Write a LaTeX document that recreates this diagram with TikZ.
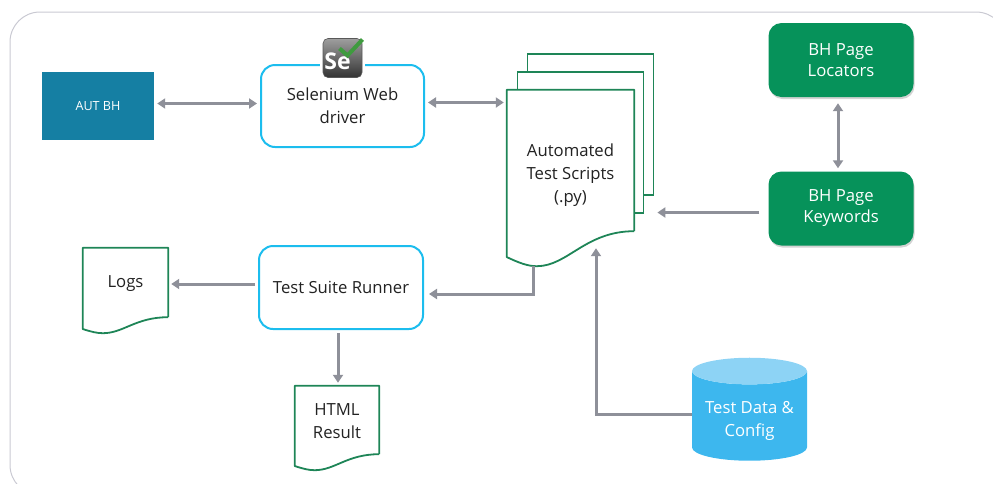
\documentclass[tikz,border=0pt]{standalone}
\usepackage{fontspec}
\setmainfont{Open Sans}
\usetikzlibrary{arrows.meta,calc,positioning,shadows,shapes.geometric}
\definecolor{flowgray}{HTML}{8E9099}
\definecolor{framegray}{HTML}{C9C9D2}
\definecolor{autblue}{HTML}{157FA3}
\definecolor{runnerblue}{HTML}{1CBDEE}
\definecolor{pagegreen}{HTML}{1E8557}
\definecolor{bhgreen}{HTML}{06925A}
\definecolor{databody}{HTML}{3DB7EE}
\definecolor{datatop}{HTML}{8DD3F5}
\definecolor{checkgreen}{HTML}{3F9B3F}
\definecolor{inkgray}{HTML}{222222}
\tikzset{
	label16/.style={font=\fontsize{16.7}{23}\selectfont,align=center,text=inkgray},
	runnerbox/.style={label16,draw=runnerblue,line width=2pt,rounded corners=14pt,fill=white,inner sep=0pt},
	bhbox/.style={label16,font=\fontsize{16.7}{21}\selectfont,text=white,fill=bhgreen,rounded corners=13pt,inner sep=0pt,minimum width=145pt,minimum height=74pt,drop shadow={opacity=.35,shadow xshift=1pt,shadow yshift=-2pt}},
	docbox/.style={label16,inner sep=0pt},
	pagebox/.style={draw=pagegreen,line width=1.8pt,fill=white,inner sep=0pt,minimum width=126pt,minimum height=141pt},
	docline/.style={draw=pagegreen,line width=1.8pt,line join=round},
	flow/.style={draw=flowgray,line width=3pt,shorten >=3pt,shorten <=3pt},
}
\newcommand{\docpage}[4][fill=none]{
\path[docline,#1] (#2.south east) -- (#2.north east) -- (#2.north west) -- ($(#2.south west)+(0,#4*0.74)$)
	.. controls +(0.10*#3,0.17*#4) and +(-0.07*#3,0) .. ($(#2.south west)+(0.236*#3,#4)$)
	.. controls +(0.244*#3,0) and +(-0.386*#3,0) .. (#2.south east);
}
\begin{document}
\begin{tikzpicture}[x=1pt,y=-1pt,on grid,>={Triangle[width=10pt,length=8pt]}]
\useasboundingbox (0,0) rectangle (993,483);
\clip (0,0) rectangle (993,483);
\draw[framegray,line width=1pt,rounded corners=30pt] (10,12) rectangle (1006,495);
\node[fill=autblue,text=white,font=\fontsize{12.6}{14}\selectfont,minimum width=112pt,minimum height=68pt,inner sep=0pt]	(aut)	at (98,106)	{AUT BH};
\node[runnerbox,minimum width=163pt,minimum height=82pt]	(selenium)		[right=244.5pt of aut]						{Selenium Web\\driver};
\node[fill=white,minimum width=45pt,minimum height=41pt,inner sep=0pt]	(seback)	[above=48.5pt of selenium]		{};
\node[top color=black!38,bottom color=black!80,draw=black!65,line width=.6pt,rounded corners=5pt,minimum width=39pt,minimum height=39pt,inner sep=0pt]	(seicon)	[above=48pt of selenium]	{};
\node[text=white,inner sep=0pt,font=\bfseries\fontsize{23}{23}\selectfont]	(setext)	[below left=3.5pt and 5pt of seicon]	{Se};
\coordinate	(checkstart)	at ($(seicon.center)+(-3,-9.5)$);
\coordinate	(checkmid)		at ($(seicon.center)+(5,-2.5)$);
\coordinate	(checkend)		at ($(seicon.center)+(20,-18.5)$);
\draw[checkgreen,line width=4pt] (checkstart) -- (checkmid) -- (checkend);
\node[pagebox]	(page3)		[above right=-18.5pt and 248pt of selenium]			{};
\node[pagebox]	(page2)		[below left=18pt and 10pt of page3]					{};
\node[docbox,minimum width=127pt,minimum height=141pt]	(scripts)	[below left=18pt and 10pt of page2]		{};
\docpage[fill=white]{scripts}{127}{35}
\node[docbox]	(scriptstext)	[below=15pt of scripts]							{Automated\\Test Scripts\\(.py)};
\node[bhbox]	(locators)	[above right=100.5pt and 270.5pt of scripts]		{BH Page\\Locators};
\node[bhbox]	(keywords)	[below=148.5pt of locators]							{BH Page\\Keywords};
\node[runnerbox,minimum width=164pt,minimum height=83pt]	(runner)	[below left=181.5pt and 1.5pt of selenium]	{Test Suite Runner};
\node[docbox,minimum width=85pt,minimum height=69pt]	(logs)	[above left=5pt and 215.5pt of runner]	{};
\docpage{logs}{85}{16}
\node[docbox]	(logstext)	[below=1.5pt of logs]								{Logs};
\node[docbox,minimum width=84pt,minimum height=68pt]	(html)	[below left=132.5pt and 4pt of runner]	{};
\docpage{html}{84}{16}
\node[docbox]	(htmltext)	[below=1.5pt of html]								{HTML\\Result};
\node[shape=cylinder,shape border rotate=90,aspect=.3,cylinder uses custom fill,cylinder body fill=databody,cylinder end fill=datatop,minimum width=115pt,minimum height=103pt,inner sep=0pt,label16]	(testdata)	at (749.5,416)	{\phantom{Test Data \&}\\\phantom{Config}};
\node[docbox,text=white]	(datatext)	[below=-14.5pt of testdata.center]		{Test Data \&\\Config};
\coordinate	(scriptsout)	at ($(scripts.south)+(-37.5,35)$);
\coordinate	(scriptsin)		at ($(scripts.south)+(25.5,14)$);
\coordinate	(dataout)		at ($(testdata.center)+(-57.5,-2)$);
\coordinate	(seleniumout)	at ($(selenium.east)+(0,-3.5)$);
\coordinate	(keywordsout)	at ($(keywords.west)+(-6,4)$);
\coordinate	(runnerin)		at ($(runner.east)+(2,6.5)$);
\coordinate	(runnerleft)	at ($(runner.west)+(0,-3.5)$);
\coordinate	(runnerfoot)	at ($(runner.south)+(-3,0)$);
\coordinate	(locatorsfoot)	at ($(locators.south)+(-3,3)$);
\draw[flow,<->]	($(aut.east)+(0,-2.5)$)		--	($(selenium.west)+(0,-2.5)$);
\draw[flow,<->]	(seleniumout)				--	(seleniumout -| scripts.west);
\draw[flow,<->]	(locatorsfoot)				--	(locatorsfoot |- keywords.north);
\draw[flow,->]	(keywordsout)				--	(keywordsout -| page3.east);
\draw[flow,->,shorten <=0pt]	(scriptsout) |- (runnerin);
\draw[flow,->]	(runnerleft)				--	(runnerleft -| logs.east);
\draw[flow,->]	(runnerfoot)				--	(runnerfoot |- html.north);
\draw[flow,->,shorten <=0pt]	(dataout) -| (scriptsin);
\end{tikzpicture}
\end{document}
